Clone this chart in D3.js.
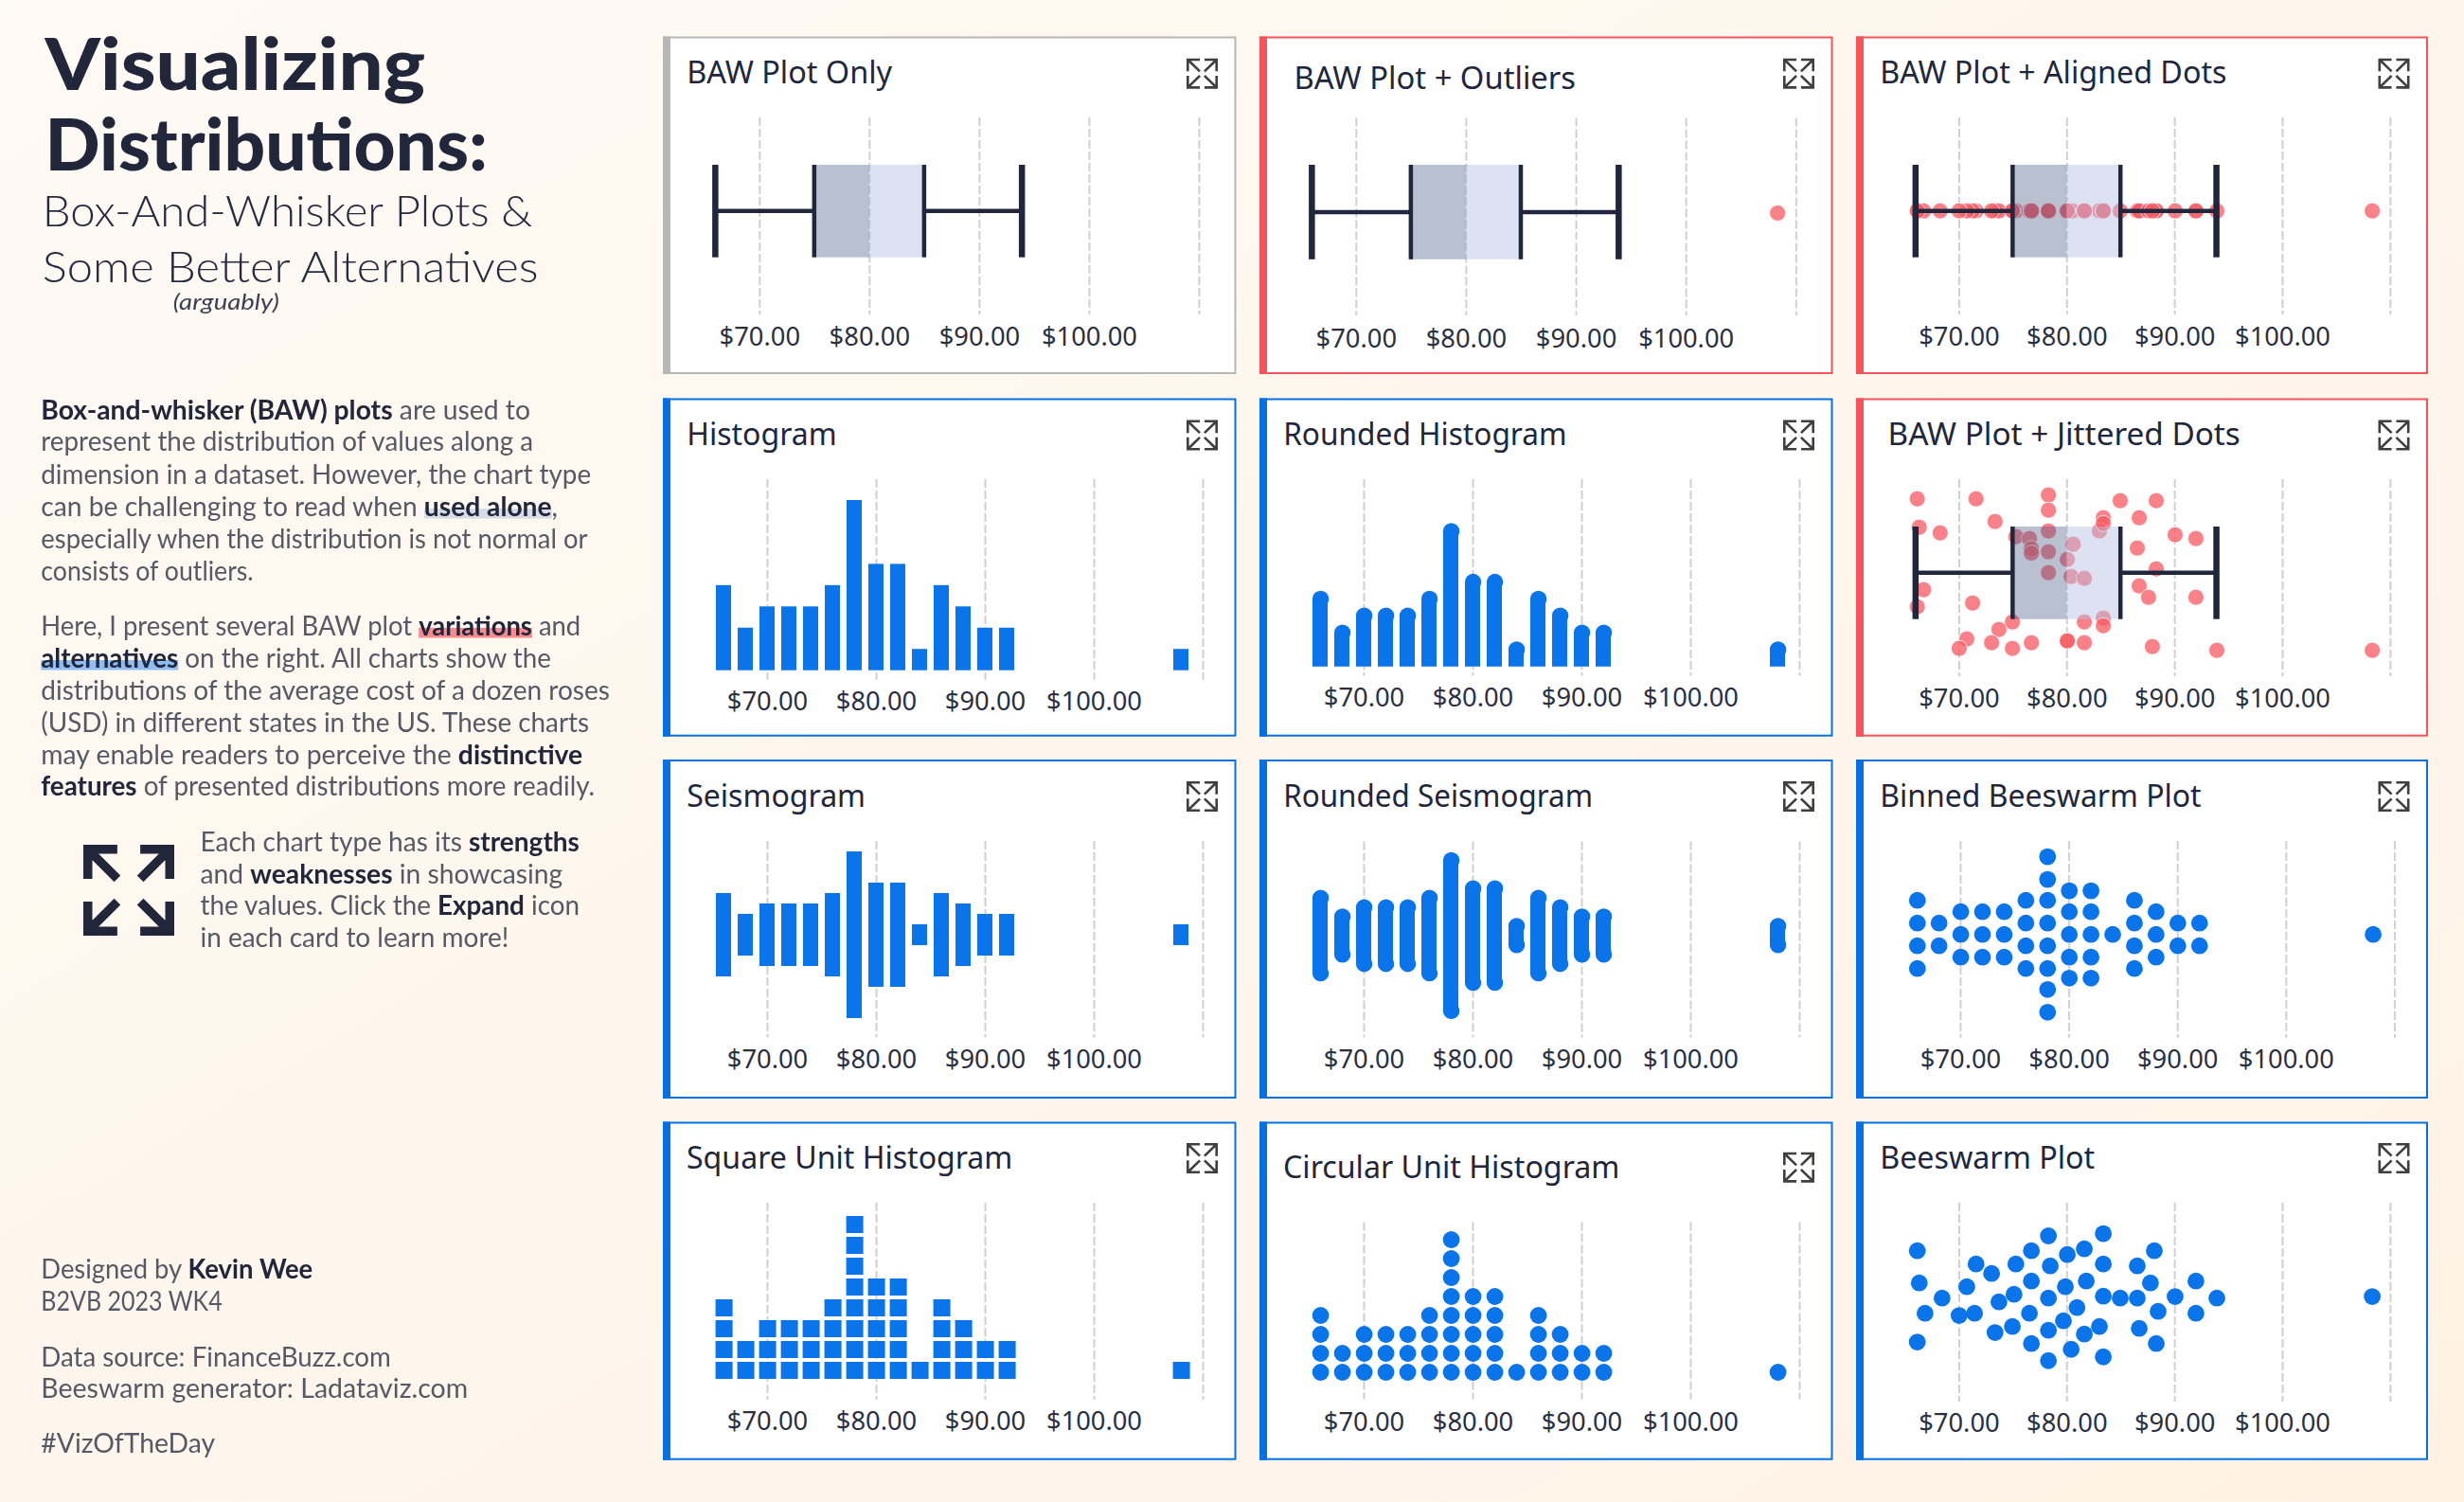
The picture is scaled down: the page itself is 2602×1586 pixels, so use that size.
<!DOCTYPE html>
<html>
<head>
<meta charset="utf-8">
<title>Visualizing Distributions</title>
<script src="https://cdn.jsdelivr.net/npm/d3@7"></script>
<style>
html,body{margin:0;padding:0;background:#fff6ed;}
svg{display:block;}
</style>
</head>
<body>
<div id="chart"></div>
<script>
// ---------- data ----------
const tickValues = [70, 80, 90, 100, 110];
const tickLabels = ["$70.00", "$80.00", "$90.00", "$100.00", ""];

const binCenters = [66, 68, 70, 72, 74, 76, 78, 80, 82, 84, 86, 88, 90, 92, 108];
const binCounts  = [4, 2, 3, 3, 3, 4, 8, 5, 5, 1, 4, 3, 2, 2, 1];

const whiskerLow = 66, quartile1 = 75, medianValue = 80, quartile3 = 85, whiskerHigh = 93.9;
const outlierValue = 108.35;

const jitterPrice = [66.16,71.61,78.32,78.32,84.98,88.32,73.37,66.34,68.28,83.41,86.74,83.05,83.41,78.32,75.3,76.56,76.74,76.74,78.32,80.61,90.07,92,86.56,80.07,78.32,80.43,81.65,88.32,66.74,86.74,87.6,92,66.16,71.29,74.98,73.73,70.75,70.04,73.05,74.98,76.74,80.07,80.07,81.65,81.65,83.41,83.41,87.96,93.94,108.35];
const jitterOffset = [.975,.975,1.025,.827,.951,.951,.679,.605,.531,.728,.728,.556,.654,.556,.481,.457,.325,.267,.284,.383,.506,.457,.333,.185,.012,-.037,-.062,.062,-.21,-.16,-.309,-.309,-.432,-.383,-.63,-.728,-.852,-.975,-.901,-.975,-.901,-.877,-.877,-.901,-.63,-.58,-.679,-.951,-1,-1];

const beePrice = [66.16,66.34,66.88,66.16,68.46,70.04,70.75,71.47,71.61,73.05,73.73,73.37,74.98,75.13,75.3,76.74,76.74,76.56,76.74,78.32,78.49,78.32,78.32,78.32,80.07,79.89,79.71,80.43,81.65,81.83,80.97,81.65,83.41,83.41,83.41,83.05,83.41,84.98,86.56,86.56,87.78,88.14,88.49,86.74,88.32,90.07,92,92,93.94,108.35];
const beeOffset = [.75,.24,-.24,-.695,0,-.275,.18,-.24,.54,.39,-.06,-.545,-.45,.06,.54,.75,.27,-.24,-.72,.985,.51,0,-.51,-.99,.69,.18,-.36,-.81,.78,.27,-.15,-.57,1.02,.54,.03,-.45,-.93,0,0,.51,.24,.75,-.21,-.48,-.72,.025,.27,-.24,0,.025];

// binned beeswarm: row slots (above / below the centre line) for each bin count
const binnedSlots = {
  1: [0],
  2: [-.5, .5],
  3: [-1, 0, 1],
  4: [-1.5, -.5, .5, 1.5],
  5: [-1.92, -1, 0, 1, 1.92],
  8: [-3.42, -2.42, -1.5, -.5, .5, 1.5, 2.42, 3.42]
};

const titles = ["BAW Plot Only","BAW Plot + Outliers","BAW Plot + Aligned Dots","Histogram","Rounded Histogram","BAW Plot + Jittered Dots","Seismogram","Rounded Seismogram","Binned Beeswarm Plot","Square Unit Histogram","Circular Unit Histogram","Beeswarm Plot"];
const titleWidths = [217,297.5,366.5,158.5,299.5,372.5,189,327,339.5,344.5,355.5,227];

const headline = ["Visualizing","Distributions:"];
const subhead = ["Box-And-Whisker Plots &","Some Better Alternatives"];

const intro = [
 {w:517,y:443,r:[["Box-and-whisker (BAW) plots",1],[" are used to",0]]},
 {w:520,y:476.5,r:[["represent the distribution of values along a",0]]},
 {w:581,y:511.5,r:[["dimension in a dataset. However, the chart type",0]]},
 {w:546,y:545,r:[["can be challenging to read when ",0],["used alone",1,"#d5dbe9"],[",",0]]},
 {w:577.5,y:579.5,r:[["especially when the distribution is not normal or",0]]},
 {w:224.5,y:613,r:[["consists of outliers.",0]]},
 {w:570,y:671,r:[["Here, I present several BAW plot ",0],["variations",1,"#f98a8e"],[" and",0]]},
 {w:539,y:705,r:[["alternatives",1,"#8fbcf2"],[" on the right. All charts show the",0]]},
 {w:601,y:739.3,r:[["distributions of the average cost of a dozen roses",0]]},
 {w:579,y:773,r:[["(USD) in different states in the US. These charts",0]]},
 {w:572,y:807,r:[["may enable readers to perceive the ",0],["distinctive",1]]},
 {w:585,y:840.3,r:[["features",1],[" of presented distributions more readily.",0]]}
];
const expandNote = [
 {w:400.7,y:899,r:[["Each chart type has its ",0],["strengths",1]]},
 {w:383,y:933,r:[["and ",0],["weaknesses",1],[" in showcasing",0]]},
 {w:400.7,y:966.5,r:[["the values. Click the ",0],["Expand",1],[" icon",0]]},
 {w:326,y:1000,r:[["in each card to learn more!",0]]}
];
const credits = [
 {w:287,y:1350.5,r:[["Designed by ",0],["Kevin Wee",1]]},
 {w:191.5,y:1384.5,r:[["B2VB 2023 WK4",0]]},
 {w:369.7,y:1443,r:[["Data source: FinanceBuzz.com",0]]},
 {w:451,y:1476.3,r:[["Beeswarm generator: Ladataviz.com",0]]},
 {w:184,y:1534.5,r:[["#VizOfTheDay",0]]}
];

// ---------- palette ----------
const INK = "#20263b", GREY_TXT = "#565966", RED = "#f8525a", BLUE = "#0470e6", BAR = "#0a74ea", GREYB = "#b7b7b7";

// ---------- layout ----------
const W = 2602, H = 1586;
const colX = [[700,1305.5],[1330,1935.5],[1960,2564]];
const rowY = [[38.5,395],[420.5,777.7],[802,1160],[1184.5,1541.7]];

const svg = d3.select("#chart").append("svg").attr("width",W).attr("height",H);
const defs = svg.append("defs");
const lg = defs.append("linearGradient").attr("id","bg").attr("x1",0).attr("y1",0).attr("x2",1).attr("y2",1);
lg.append("stop").attr("offset",0).attr("stop-color","#fefaf4");
lg.append("stop").attr("offset",1).attr("stop-color","#fff2e5");
defs.append("filter").attr("id","soft").attr("x","-2%").attr("y","-2%").attr("width","104%").attr("height","104%")
  .append("feGaussianBlur").attr("stdDeviation",.55);
svg.append("rect").attr("width",W).attr("height",H).attr("fill","url(#bg)");

function fit(sel, target){
  let k=1;
  sel.each(function(){
    const n = this.getComputedTextLength();
    k = target/n;
    const x = +this.getAttribute("x")||0, y = +this.getAttribute("y")||0;
    d3.select(this).attr("transform",`translate(${x},${y}) scale(${k},1) translate(${-x},${-y})`);
  });
  return k;
}

function expandIcon(g, x, y, w, h, sw, color, qx, qy){
  const px = d3.scaleLinear().domain([0,1]).range([x+sw/2, x+w-sw/2]);
  const py = d3.scaleLinear().domain([0,1]).range([y+sw/2, y+h-sw/2]);
  const corners = [[0,0,1,1],[1,0,-1,1],[0,1,1,-1],[1,1,-1,-1]];
  g.append("g").attr("fill","none").attr("stroke",color).attr("stroke-width",sw)
   .selectAll("path").data(corners).join("path")
   .attr("d",([a,b,dx,dy])=>{
     const cx=px(a), cy=py(b), ex=px(a+dx*qx), ey=py(b+dy*qy);
     return `M${ex},${cy}L${cx},${cy}L${cx},${ey}M${cx},${cy}L${ex},${ey}`;
   });
}

// ---------- cards ----------
const layouts = [
 {c:0,r:0,color:GREYB,tx:725.2,ty:88.3,iy:61.7,ix:553,x70:801.8,x110:1266,g0:124,g1:332,lb:365},
 {c:1,r:0,color:RED,tx:1366.5,ty:94,iy:61.7,ix:553,x70:1431.8,x110:1896.3,g0:124.5,g1:333,lb:367},
 {c:2,r:0,color:RED,tx:1985.2,ty:88.3,iy:61.7,ix:551.5,x70:2068.4,x110:2523.9,g0:124,g1:332,lb:365},
 {c:0,r:1,color:BLUE,tx:725.2,ty:470,iy:443.5,ix:553,x70:810,x110:1270,g0:506,g1:717.7,lb:750},
 {c:1,r:1,color:BLUE,tx:1355.2,ty:470,iy:443.5,ix:553,x70:1440,x110:1900,g0:506,g1:713.5,lb:746},
 {c:2,r:1,color:RED,tx:1993.5,ty:470,iy:443.5,ix:551.5,x70:2068.4,x110:2523.9,g0:506,g1:714,lb:747},
 {c:0,r:2,color:BLUE,tx:725.2,ty:852,iy:825,ix:553,x70:810,x110:1270,g0:888,g1:1095.5,lb:1128.5},
 {c:1,r:2,color:BLUE,tx:1355.2,ty:852,iy:825,ix:553,x70:1440,x110:1900,g0:888.5,g1:1095.5,lb:1128.5},
 {c:2,r:2,color:BLUE,tx:1985.2,ty:851.7,iy:825,ix:551.5,x70:2070,x110:2528.4,g0:888,g1:1095.7,lb:1128},
 {c:0,r:3,color:BLUE,tx:725,ty:1234,iy:1207,ix:553,x70:810,x110:1270,g0:1270,g1:1477.7,lb:1510},
 {c:1,r:3,color:BLUE,tx:1355,ty:1244,iy:1216.7,ix:553,x70:1440,x110:1900,g0:1290.4,g1:1477.5,lb:1511},
 {c:2,r:3,color:BLUE,tx:1985.2,ty:1234,iy:1207,ix:551.5,x70:2068.4,x110:2523.9,g0:1270,g1:1480,lb:1512}
];

const bins = binCenters.map((v,i)=>({v,n:binCounts[i]}));
const DOT = {fill:"#f95a62",op:.76};
const drawers = [];

function boxPlot(g, x, top, bottom){
  const mid=(top+bottom)/2;
  g.append("rect").attr("x",x(quartile1)).attr("y",top).attr("width",x(medianValue)-x(quartile1)).attr("height",bottom-top).attr("fill","rgb(71,92,134)").attr("fill-opacity",.38);
  g.append("rect").attr("x",x(medianValue)).attr("y",top).attr("width",x(quartile3)-x(medianValue)).attr("height",bottom-top).attr("fill","rgb(183,193,228)").attr("fill-opacity",.47);
  g.selectAll("line.arm").data([[whiskerLow,quartile1],[quartile3,whiskerHigh]]).join("line").attr("class","arm")
    .attr("x1",d=>x(d[0])).attr("x2",d=>x(d[1])).attr("y1",mid).attr("y2",mid).attr("stroke",INK).attr("stroke-width",4.5);
  g.selectAll("line.edge").data([quartile1,quartile3]).join("line").attr("class","edge")
    .attr("x1",d=>x(d)).attr("x2",d=>x(d)).attr("y1",top).attr("y2",bottom).attr("stroke",INK).attr("stroke-width",4.5);
  g.selectAll("line.cap").data([whiskerLow,whiskerHigh]).join("line").attr("class","cap")
    .attr("x1",d=>x(d)).attr("x2",d=>x(d)).attr("y1",top).attr("y2",bottom).attr("stroke",INK).attr("stroke-width",6.5);
}
function redDots(g, data, cx, cy){
  g.append("g").selectAll("circle").data(data).join("circle")
    .attr("cx",cx).attr("cy",cy).attr("r",8.5).attr("fill",DOT.fill).attr("fill-opacity",DOT.op).attr("stroke","#fff").attr("stroke-width",1).attr("stroke-opacity",.8);
}
function blueDots(g, data, cx, cy){
  g.append("g").selectAll("circle").data(data).join("circle")
    .attr("cx",cx).attr("cy",cy).attr("r",8.9).attr("fill",BAR);
}

drawers[0] = (g,x)=>boxPlot(g,x,174,271.7);
drawers[1] = (g,x)=>{ boxPlot(g,x,174,273.8); redDots(g,[outlierValue],x,()=>224.9); };
drawers[2] = (g,x)=>{ redDots(g,jitterPrice,x,()=>222.7); boxPlot(g,x,174,271.7); };
drawers[3] = (g,x)=>{
  const y=d3.scaleLinear().domain([0,8]).range([707.7,528]);
  g.selectAll("rect").data(bins).join("rect").attr("x",d=>x(d.v)-8).attr("width",16).attr("y",d=>y(d.n)).attr("height",d=>y(0)-y(d.n)).attr("fill",BAR);
};
drawers[4] = (g,x)=>{
  const y=d3.scaleLinear().domain([0,8]).range([703.8,561]);
  g.selectAll("rect").data(bins).join("rect").attr("x",d=>x(d.v)-8).attr("width",16).attr("y",d=>y(d.n)).attr("height",d=>y(0)-y(d.n)).attr("fill",BAR);
  g.selectAll("circle").data(bins).join("circle").attr("cx",d=>x(d.v)+.6).attr("cy",d=>y(d.n)).attr("r",8.7).attr("fill",BAR);
};
drawers[5] = (g,x)=>{
  const y=d3.scaleLinear().domain([-1,1]).range([686.7,524.7]);
  redDots(g,jitterPrice.map((v,i)=>({v,o:jitterOffset[i]})),d=>x(d.v),d=>y(d.o));
  boxPlot(g,x,556,653.7);
};
drawers[6] = (g,x)=>{
  const y=d3.scaleLinear().domain([-8,8]).range([1075,899]);
  g.selectAll("rect").data(bins).join("rect").attr("x",d=>x(d.v)-8).attr("width",16).attr("y",d=>y(d.n)).attr("height",d=>y(-d.n)-y(d.n)).attr("fill",BAR);
};
drawers[7] = (g,x)=>{
  const y=d3.scaleLinear().domain([-8,8]).range([1067.4,908.4]);
  g.selectAll("rect").data(bins).join("rect").attr("x",d=>x(d.v)-8).attr("width",16).attr("y",d=>y(d.n)).attr("height",d=>y(-d.n)-y(d.n)).attr("fill",BAR);
  const ends = bins.flatMap(d=>[{v:d.v,k:d.n},{v:d.v,k:-d.n}]);
  g.selectAll("circle").data(ends).join("circle").attr("cx",d=>x(d.v)+.6).attr("cy",d=>y(d.k)).attr("r",8.7).attr("fill",BAR);
};
drawers[8] = (g,x)=>{
  const y=d3.scaleLinear().domain([-1,1]).range([1010.7,962.7]);
  const pts=bins.flatMap(d=>binnedSlots[d.n].map(s=>({v:d.v,s})));
  blueDots(g,pts,d=>x(d.v)+.6,d=>y(d.s));
};
drawers[9] = (g,x)=>{
  const y=d3.scaleLinear().domain([0,1]).range([1447,1425]);
  const pts=bins.flatMap(d=>d3.range(d.n).map(i=>({v:d.v,i})));
  g.selectAll("rect").data(pts).join("rect").attr("x",d=>x(d.v)-8.4).attr("width",18).attr("y",d=>y(d.i)-9).attr("height",18).attr("fill",BAR);
};
drawers[10] = (g,x)=>{
  const y=d3.scaleLinear().domain([0,1]).range([1449,1429]);
  const pts=bins.flatMap(d=>d3.range(d.n).map(i=>({v:d.v,i})));
  blueDots(g,pts,d=>x(d.v)+.6,d=>y(d.i));
};
drawers[11] = (g,x)=>{
  const y=d3.scaleLinear().domain([-1,1]).range([1437.4,1304]);
  blueDots(g,beePrice.map((v,i)=>({v,o:beeOffset[i]})),d=>x(d.v),d=>y(d.o));
};

layouts.forEach((L,i)=>{
  const [x0,x1]=colX[L.c], [y0,y1]=rowY[L.r];
  const g=svg.append("g").attr("class","card");
  g.append("rect").attr("x",x0+1).attr("y",y0+1).attr("width",x1-x0-2).attr("height",y1-y0-2).attr("fill","#fff").attr("stroke",L.color).attr("stroke-width",2);
  g.append("rect").attr("x",x0).attr("y",y0).attr("width",8).attr("height",y1-y0).attr("fill",L.color);
  const t=g.append("text").attr("x",L.tx).attr("y",L.ty).text(titles[i]).attr("font-family","'Noto Sans'").attr("font-size",32).attr("fill",INK);
  fit(t,titleWidths[i]);
  expandIcon(g,x0+L.ix,L.iy,33,32,2.6,"#3f3f3f",.42,.42);

  const x=d3.scaleLinear().domain([tickValues[0],tickValues[tickValues.length-1]]).range([L.x70,L.x110]);
  const axis=d3.axisBottom(x).tickValues(tickValues).tickFormat((d,k)=>tickLabels[k]).tickSize(L.g1-L.g0).tickPadding(8);
  const ax=g.append("g").attr("transform",`translate(0,${L.g0})`).call(axis);
  ax.select(".domain").remove();
  ax.selectAll(".tick line").attr("stroke","#d0d0d0").attr("stroke-width",2).attr("stroke-dasharray","9 3");
  ax.selectAll(".tick text").attr("font-family","'Noto Sans'").attr("font-size",27).attr("fill","#2a2f42").attr("dy",0).attr("y",L.lb-L.g0);
  ax.selectAll(".tick text").each(function(d,k){
    const target = tickLabels[k].length===6 ? 85.5 : 101;
    const n=this.getComputedTextLength();
    if(n>0) d3.select(this).attr("transform",`scale(${target/n},1)`);
  });
  drawers[i](g.append("g"),x);
});

// ---------- left panel ----------
const side=svg.append("g").attr("class","side").attr("filter","url(#soft)");
const FONT="Lato";

function headlineLine(txt,x,y,w,size,weight,color,style){
  const t=side.append("text").attr("x",x).attr("y",y).text(txt).attr("font-family",FONT).attr("font-size",size).attr("font-weight",weight).attr("fill",color);
  if(style) t.attr("font-style",style);
  fit(t,w);
}
headlineLine(headline[0],47.5,95,401.5,77,900,INK);
headlineLine(headline[1],47.5,180.5,467.5,77,900,INK);
headlineLine(subhead[0],44.8,239.5,517.7,46,300,"#262b40");
headlineLine(subhead[1],44.8,298,523.8,46,300,"#262b40");
headlineLine("(arguably)",182.7,326.7,112.3,24,400,"#3b4054","italic");

function paragraph(lines,x,size){
  lines.forEach(l=>{
    const t=side.append("text").attr("x",x).attr("y",l.y).attr("font-family",FONT).attr("font-size",size).attr("fill",GREY_TXT).style("white-space","pre");
    l.r.forEach(([s,b])=>t.append("tspan").text(s).attr("font-weight",b?700:400).attr("fill",b?INK:GREY_TXT));
    const k=fit(t,l.w);
    let pos=0;
    l.r.forEach(([s,b,mark])=>{
      if(mark){
        const a=t.node().getStartPositionOfChar(pos).x, e=t.node().getEndPositionOfChar(pos+s.length-1).x;
        side.insert("rect",()=>t.node()).attr("x",x+(a-x)*k).attr("y",l.y-8).attr("width",(e-a)*k).attr("height",10.5).attr("fill",mark);
      }
      pos+=s.length;
    });
  });
}
paragraph(intro,43.3,28);
paragraph(expandNote,211.5,28);
paragraph(credits,43.3,28);
expandIcon(side,88,892,96,96,9.5,INK,.36,.36);
</script>
</body>
</html>
